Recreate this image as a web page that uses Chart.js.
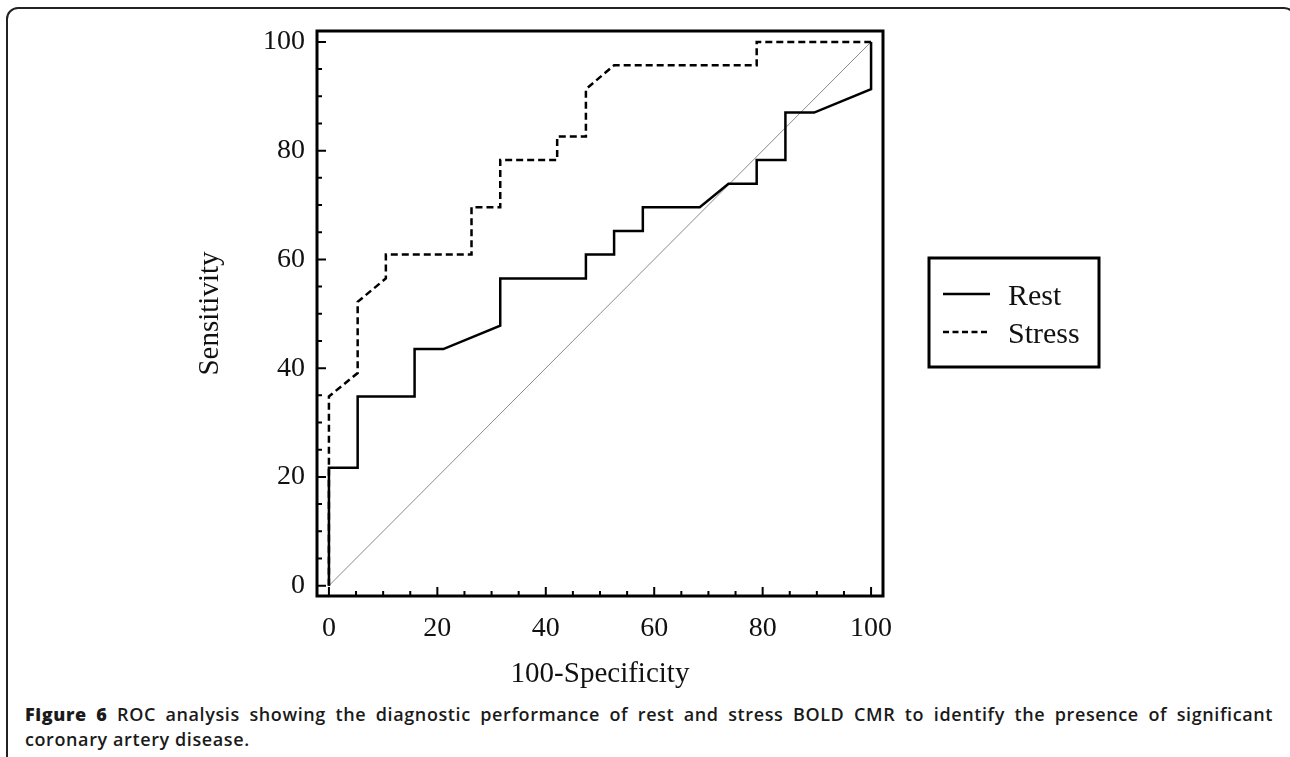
<!DOCTYPE html>
<html>
<head>
<meta charset="utf-8">
<script src="https://cdn.jsdelivr.net/npm/chart.js@4.4.1/dist/chart.umd.min.js"></script>
<style>
    html, body { margin: 0; padding: 0; background: #fff; overflow: hidden; }
    body { width: 1290px; height: 757px; position: relative; }
    #frame {
        position: absolute; left: 6px; top: 7px; width: 1290px; height: 800px;
        border: 2px solid #222; border-radius: 12px; box-sizing: border-box;
    }
    #wrap { position: absolute; left: 0; top: 0; width: 1290px; height: 700px; }
    #caption {
        position: absolute; left: 25px; top: 702px; width: 1248px;
        font-family: "Open Sans", sans-serif; font-size: 18px; font-weight: 600;
        letter-spacing: 0.6px; line-height: 25px; color: #1a1a1a;
    }
    #caption .l1 { text-align: justify; text-align-last: justify; }
    #caption b { font-weight: 800; }
</style>
</head>
<body>
<div id="frame"></div>
<div id="wrap"><canvas id="roc" width="1290" height="700"></canvas></div>
<div id="caption">
    <div class="l1"><b>Figure 6</b> ROC analysis showing the diagnostic performance of rest and stress BOLD CMR to identify the presence of significant</div>
    <div>coronary artery disease.</div>
</div>
<script>
// 数据
const restSpec   = [0, 0, 5.3, 5.3, 15.8, 15.8, 21.1, 31.6, 31.6, 47.4, 47.4, 52.6, 52.6, 57.9, 57.9, 68.4, 73.7, 78.9, 78.9, 84.2, 84.2, 89.5, 100, 100];
const restSens   = [0, 21.7, 21.7, 34.8, 34.8, 43.5, 43.5, 47.8, 56.5, 56.5, 60.9, 60.9, 65.2, 65.2, 69.6, 69.6, 73.9, 73.9, 78.3, 78.3, 87.0, 87.0, 91.3, 100];
const stressSpec = [0, 0, 5.3, 5.3, 10.5, 10.5, 26.3, 26.3, 31.6, 31.6, 42.1, 42.1, 47.4, 47.4, 52.6, 78.9, 78.9, 100];
const stressSens = [0, 34.8, 39.1, 52.2, 56.5, 60.9, 60.9, 69.6, 69.6, 78.3, 78.3, 82.6, 82.6, 91.3, 95.7, 95.7, 100, 100];
const diagSpec   = [0, 100];
const diagSens   = [0, 100];
const xTicks = [0, 20, 40, 60, 80, 100];
const yTicks = [0, 20, 40, 60, 80, 100];
const minorStep = 5;

const serif = 'Liberation Serif, Times New Roman, serif';
const toPoints = (xs, ys) => xs.map((x, i) => ({ x: x, y: ys[i] }));

// 坐标框和朝内的刻度
const framePlugin = {
    id: 'frame',
    afterDatasetsDraw(chart) {
        const { ctx, chartArea: a, scales } = chart;
        ctx.save();
        ctx.strokeStyle = '#000';
        ctx.lineWidth = 3;
        ctx.strokeRect(a.left, a.top, a.right - a.left, a.bottom - a.top);
        ctx.lineWidth = 2;
        ctx.beginPath();
        for (let v = 0; v <= 100; v += minorStep) {
            const len = v % 20 === 0 ? 9 : 5;
            const px = scales.x.getPixelForValue(v);
            ctx.moveTo(px, a.bottom);
            ctx.lineTo(px, a.bottom - len);
            const py = scales.y.getPixelForValue(v);
            ctx.moveTo(a.left, py);
            ctx.lineTo(a.left + len, py);
        }
        ctx.stroke();
        ctx.restore();
    }
};

// 图例（右侧方框）
const boxLegend = {
    id: 'boxLegend',
    afterDraw(chart) {
        const { ctx } = chart;
        const items = chart.data.datasets.filter(d => d.label);
        ctx.save();
        ctx.strokeStyle = '#000';
        ctx.lineWidth = 3;
        ctx.strokeRect(929, 258, 170, 109);
        ctx.font = '30px ' + serif;
        ctx.fillStyle = '#111';
        ctx.textBaseline = 'alphabetic';
        items.forEach((d, i) => {
            const y = 294 + i * 38;
            ctx.lineWidth = 2.5;
            ctx.setLineDash(d.borderDash && d.borderDash.length ? [6, 3.5] : []);
            ctx.beginPath();
            ctx.moveTo(943, y);
            ctx.lineTo(990, y);
            ctx.stroke();
            ctx.setLineDash([]);
            ctx.fillText(d.label, 1008, y + 11);
        });
        ctx.restore();
    }
};

new Chart(document.getElementById('roc'), {
    type: 'scatter',
    data: {
        datasets: [
            {
                label: 'Rest',
                data: toPoints(restSpec, restSens),
                showLine: true, borderColor: '#000', borderWidth: 2.5,
                pointRadius: 0, borderDash: []
            },
            {
                label: 'Stress',
                data: toPoints(stressSpec, stressSens),
                showLine: true, borderColor: '#000', borderWidth: 2.5,
                pointRadius: 0, borderDash: [7, 4]
            },
            {
                label: '',
                data: toPoints(diagSpec, diagSens),
                showLine: true, borderColor: '#8a8a8a', borderWidth: 1,
                pointRadius: 0
            }
        ]
    },
    options: {
        responsive: false,
        animation: false,
        layout: { padding: { top: 31, right: 407, left: 0, bottom: 0 } },
        plugins: { legend: { display: false }, tooltip: { enabled: false } },
        scales: {
            x: {
                type: 'linear', min: -2.2, max: 102.2,
                afterFit: s => { s.height = 104; },
                afterBuildTicks: s => { s.ticks = xTicks.map(v => ({ value: v })); },
                grid: { display: false, drawTicks: false, tickLength: 0 },
                border: { display: false },
                ticks: { font: { family: serif, size: 28 }, color: '#111', padding: 16, maxRotation: 0 },
                title: { display: true, text: '100-Specificity', color: '#111',
                         font: { family: serif, size: 29 }, padding: { top: 0, bottom: 8 } }
            },
            y: {
                type: 'linear', min: -1.9, max: 102,
                afterFit: s => { s.width = 317; },
                afterBuildTicks: s => { s.ticks = yTicks.map(v => ({ value: v })); },
                grid: { display: false, drawTicks: false, tickLength: 0 },
                border: { display: false },
                ticks: { font: { family: serif, size: 28 }, color: '#111', padding: 12 },
                title: { display: true, text: 'Sensitivity', color: '#111',
                         font: { family: serif, size: 29 }, padding: { top: 193, bottom: 0 } }
            }
        }
    },
    plugins: [framePlugin, boxLegend]
});
</script>
</body>
</html>
